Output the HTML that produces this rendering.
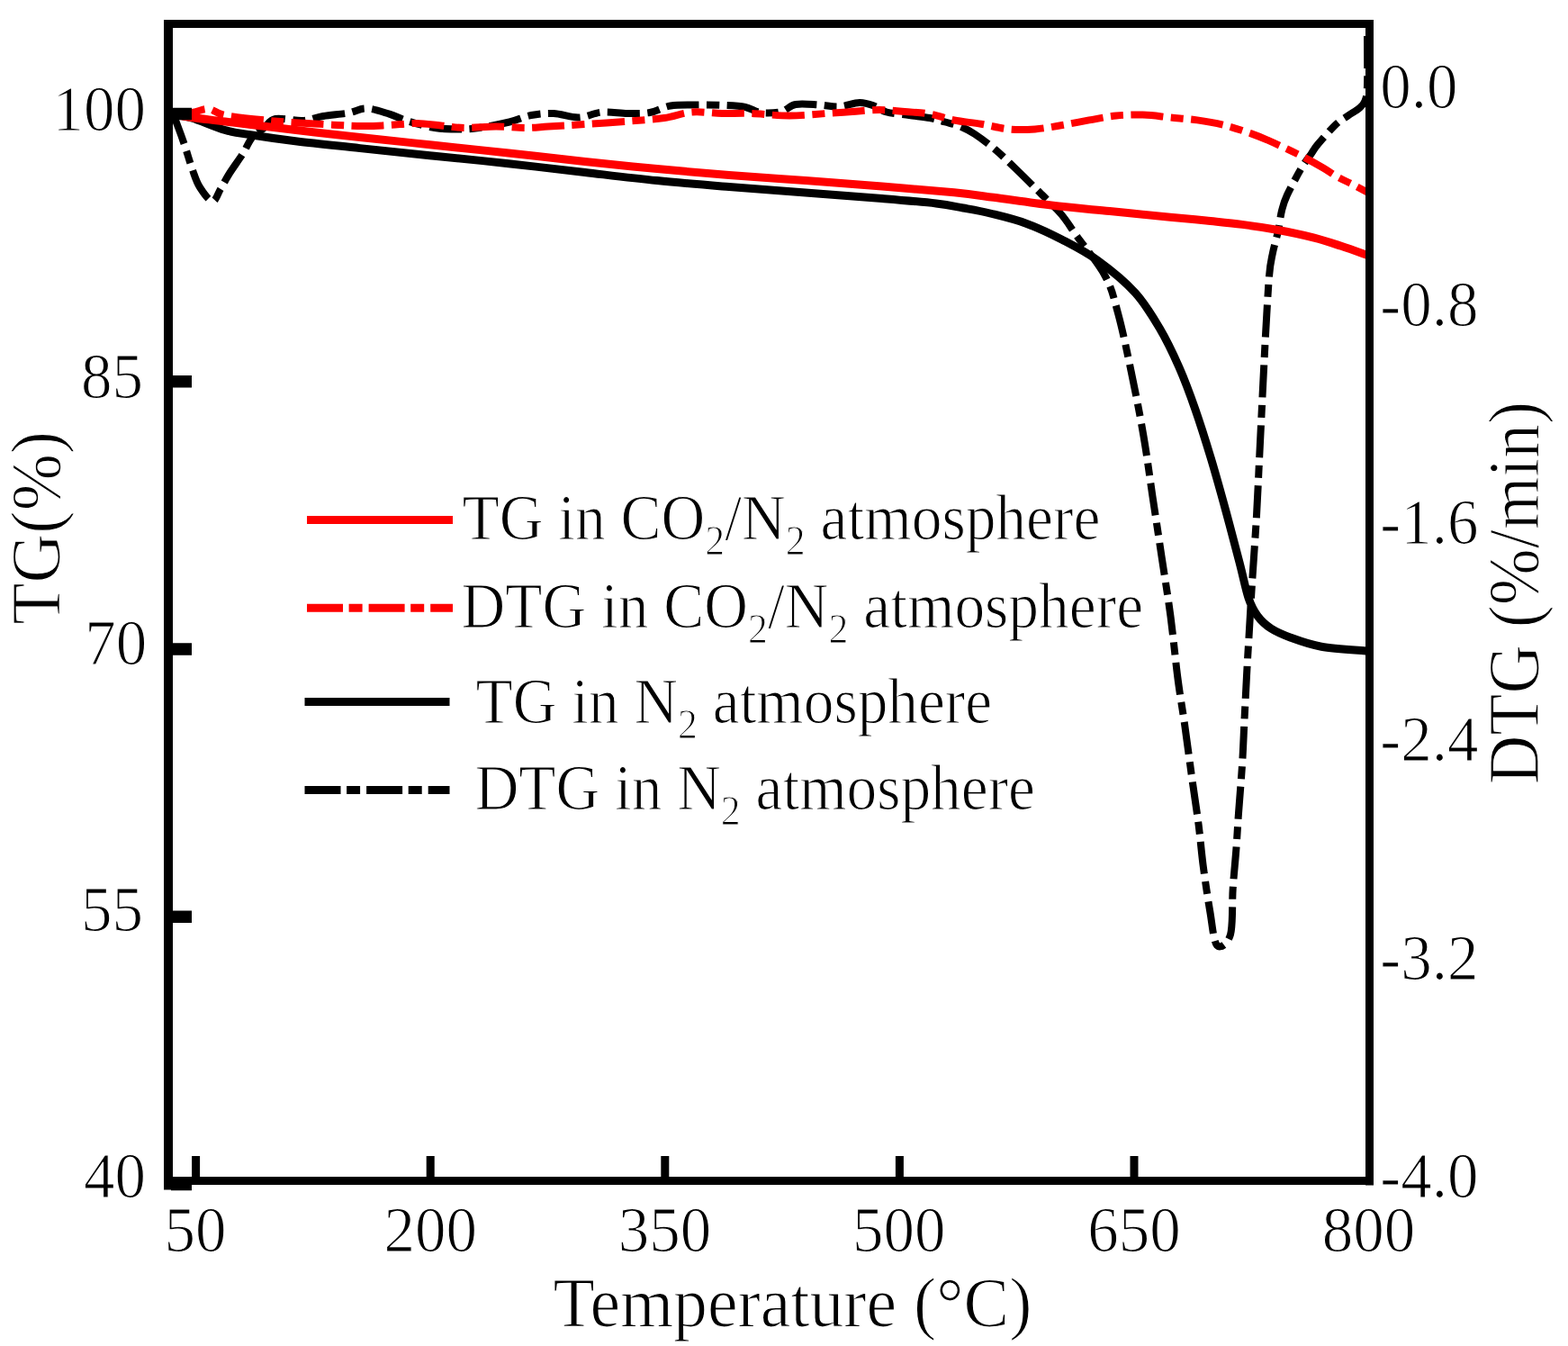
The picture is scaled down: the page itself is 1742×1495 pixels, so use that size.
<!DOCTYPE html><html><head><meta charset="utf-8"><style>html,body{margin:0;padding:0;background:#fff;overflow:hidden;}svg{display:block}</style></head><body>
<svg width="1742" height="1495" viewBox="0 0 1742 1495">
<rect width="100%" height="100%" fill="#fff"/>
<defs><clipPath id="pc"><rect x="186" y="26" width="1334" height="1288"/></clipPath></defs>
<g clip-path="url(#pc)" fill="none" stroke-linejoin="round">
<path d="M192.0,126.0 C192.9,128.4 195.5,134.8 197.7,140.6 C199.9,146.4 202.3,152.9 205.0,161.0 C207.7,169.1 211.2,181.2 214.0,189.0 C216.8,196.8 218.3,202.2 222.0,208.0 C225.7,213.8 232.2,223.2 236.0,223.5 C239.8,223.8 241.8,215.2 245.0,210.0 C248.2,204.8 250.9,199.0 255.0,192.5 C259.1,186.0 265.4,177.6 269.6,171.0 C273.8,164.4 276.0,157.8 280.0,153.0 C284.0,148.2 289.3,145.5 293.6,142.0 C297.9,138.5 298.8,133.3 306.0,132.0 C313.2,130.7 327.8,134.5 336.6,134.0 C345.4,133.5 350.6,130.4 359.0,129.0 C367.4,127.6 379.0,126.9 387.0,125.5 C395.0,124.1 399.4,120.2 407.0,120.4 C414.6,120.6 424.9,124.4 432.5,126.7 C440.1,129.0 444.3,131.8 452.7,134.3 C461.1,136.9 473.4,140.5 483.0,142.0 C492.6,143.5 501.8,143.5 510.0,143.5 C518.2,143.5 522.7,143.3 532.0,142.0 C541.3,140.7 556.3,137.8 566.0,135.5 C575.7,133.2 581.8,129.6 590.0,128.0 C598.2,126.4 606.2,125.6 615.0,126.0 C623.8,126.4 634.0,130.8 643.0,130.5 C652.0,130.2 660.0,125.2 669.0,124.5 C678.0,123.8 688.2,125.9 697.0,126.0 C705.8,126.1 714.0,126.4 722.0,125.0 C730.0,123.6 736.2,118.9 745.0,117.5 C753.8,116.1 765.0,116.6 775.0,116.5 C785.0,116.4 796.2,116.6 805.0,117.0 C813.8,117.4 821.3,117.7 828.0,119.0 C834.7,120.3 838.3,124.2 845.0,125.0 C851.7,125.8 861.5,125.5 868.0,124.0 C874.5,122.5 877.0,117.2 884.0,116.0 C891.0,114.8 902.0,116.1 910.0,116.5 C918.0,116.9 924.5,118.9 932.0,118.5 C939.5,118.1 948.3,114.1 955.0,114.0 C961.7,113.9 967.0,116.2 972.0,118.0 C977.0,119.8 978.7,122.8 985.0,124.5 C991.3,126.2 1002.0,126.9 1010.0,128.0 C1018.0,129.1 1026.3,129.8 1033.0,131.0 C1039.7,132.2 1044.3,133.9 1050.0,135.5 C1055.7,137.1 1061.5,138.2 1067.0,140.5 C1072.5,142.8 1076.5,144.7 1083.0,149.0 C1089.5,153.3 1098.3,159.9 1106.0,166.4 C1113.7,172.9 1120.8,180.1 1129.0,188.0 C1137.2,195.9 1146.7,205.4 1155.0,213.7 C1163.3,222.0 1172.1,229.9 1179.0,238.0 C1185.9,246.1 1188.3,251.0 1196.5,262.5 C1204.7,274.0 1220.4,292.7 1228.0,307.0 C1235.6,321.3 1237.4,330.9 1242.2,348.5 C1247.0,366.1 1252.0,390.1 1256.7,412.7 C1261.4,435.3 1266.5,460.9 1270.4,484.0 C1274.4,507.1 1277.1,528.7 1280.4,551.0 C1283.8,573.3 1287.2,595.7 1290.5,618.0 C1293.8,640.3 1297.5,661.8 1300.5,684.8 C1303.5,707.8 1306.1,735.6 1308.8,755.9 C1311.5,776.2 1313.9,788.9 1316.4,806.7 C1318.9,824.5 1321.5,844.4 1324.0,862.6 C1326.5,880.8 1329.5,899.5 1331.6,916.0 C1333.7,932.5 1334.6,945.6 1336.7,961.7 C1338.8,977.8 1341.8,997.8 1344.3,1012.5 C1346.8,1027.2 1348.2,1045.8 1352.0,1050.0 C1355.8,1054.2 1364.0,1048.5 1367.0,1038.0 C1370.0,1027.5 1368.6,1003.1 1369.7,987.0 C1370.8,970.9 1372.5,955.4 1373.5,941.4 C1374.5,927.4 1374.9,918.5 1376.0,903.3 C1377.1,888.1 1378.9,867.0 1380.0,850.0 C1381.1,833.0 1381.6,818.1 1382.4,801.6 C1383.2,785.1 1384.2,766.5 1385.0,750.8 C1385.8,735.1 1386.5,724.2 1387.5,707.6 C1388.5,691.0 1389.4,673.5 1390.8,651.3 C1392.2,629.1 1394.5,598.4 1395.9,574.4 C1397.3,550.4 1398.1,529.8 1399.2,507.5 C1400.3,485.2 1401.4,462.9 1402.5,440.6 C1403.6,418.3 1404.7,396.0 1405.9,373.7 C1407.2,351.4 1408.7,322.3 1410.0,306.8 C1411.3,291.3 1412.3,289.1 1414.0,280.7 C1415.7,272.3 1418.3,264.5 1420.0,256.7 C1421.7,248.9 1422.3,240.7 1424.0,234.0 C1425.7,227.3 1426.3,224.4 1430.0,216.5 C1433.7,208.6 1441.5,194.2 1446.0,186.5 C1450.5,178.8 1454.0,174.8 1457.0,170.4 C1460.0,166.1 1459.5,165.8 1464.0,160.4 C1468.5,155.1 1478.3,143.7 1484.0,138.3 C1489.7,133.0 1493.7,131.3 1498.0,128.3 C1502.3,125.3 1506.9,123.0 1510.0,120.3 C1513.1,117.6 1515.0,116.2 1516.5,112.0 C1518.0,107.8 1518.6,107.0 1519.0,95.0 C1519.4,83.0 1519.0,49.2 1519.0,40.0" stroke="#000" stroke-width="8" stroke-dasharray="36 8.5 14 8.5"/>
<path d="M192.0,127.0 C195.5,127.7 203.3,128.1 213.0,131.0 C222.7,133.9 238.8,141.3 250.0,144.5 C261.2,147.7 266.7,147.9 280.0,150.0 C293.3,152.1 310.0,154.6 330.0,157.0 C350.0,159.4 375.0,161.9 400.0,164.6 C425.0,167.3 452.5,170.2 480.0,173.0 C507.5,175.8 536.7,178.6 565.0,181.7 C593.3,184.8 622.5,188.3 650.0,191.5 C677.5,194.7 703.3,197.9 730.0,200.6 C756.7,203.3 782.5,205.3 810.0,207.5 C837.5,209.7 866.7,211.7 895.0,213.9 C923.3,216.1 955.8,218.5 980.0,220.5 C1004.2,222.5 1025.0,224.2 1040.0,226.0 C1055.0,227.8 1060.0,229.2 1070.0,231.0 C1080.0,232.8 1088.3,234.1 1100.0,237.0 C1111.7,239.9 1126.7,243.3 1140.0,248.2 C1153.3,253.1 1166.7,259.4 1180.0,266.3 C1193.3,273.2 1206.5,279.8 1220.0,289.6 C1233.5,299.4 1249.7,312.6 1261.0,325.0 C1272.3,337.4 1279.8,350.2 1288.0,364.0 C1296.2,377.8 1303.3,392.8 1310.0,408.0 C1316.7,423.2 1322.2,438.3 1328.0,455.0 C1333.8,471.7 1339.3,489.2 1345.0,508.0 C1350.7,526.8 1356.7,548.6 1362.0,568.0 C1367.3,587.4 1372.8,608.6 1377.0,624.6 C1381.2,640.6 1383.7,654.1 1387.0,664.0 C1390.3,673.9 1392.8,678.3 1397.0,684.0 C1401.2,689.7 1405.8,694.0 1412.0,698.0 C1418.2,702.0 1424.7,704.8 1434.0,708.2 C1443.3,711.6 1453.8,715.7 1468.0,718.2 C1482.2,720.7 1510.5,722.2 1519.0,723.0" stroke="#000" stroke-width="9"/>
<path d="M192.0,126.0 C195.5,125.8 206.3,125.8 213.0,125.0 C219.7,124.2 225.8,120.5 232.0,121.0 C238.2,121.5 238.7,125.8 250.0,128.0 C261.3,130.2 283.3,132.4 300.0,134.0 C316.7,135.6 333.0,136.5 350.0,137.5 C367.0,138.5 388.3,139.8 402.0,140.0 C415.7,140.2 421.8,139.5 432.0,139.0 C442.2,138.5 453.3,136.9 463.0,137.0 C472.7,137.1 481.2,138.7 490.0,139.5 C498.8,140.3 505.8,141.8 516.0,142.0 C526.2,142.2 539.7,140.6 551.0,140.6 C562.3,140.6 574.3,142.0 584.0,142.0 C593.7,142.0 598.0,141.3 609.0,140.6 C620.0,139.9 634.8,139.0 650.0,138.0 C665.2,137.0 685.3,135.7 700.0,134.5 C714.7,133.3 726.5,132.7 738.0,131.0 C749.5,129.3 758.3,125.3 769.0,124.5 C779.7,123.7 791.2,125.8 802.0,126.0 C812.8,126.2 821.5,125.6 834.0,126.0 C846.5,126.4 863.0,128.5 877.0,128.5 C891.0,128.5 906.3,126.8 918.0,126.0 C929.7,125.2 937.2,124.7 947.0,124.0 C956.8,123.3 967.3,122.0 977.0,122.0 C986.7,122.0 995.7,123.2 1005.0,124.0 C1014.3,124.8 1023.8,124.9 1033.0,126.5 C1042.2,128.1 1050.5,131.6 1060.0,133.5 C1069.5,135.4 1080.0,136.0 1090.0,137.7 C1100.0,139.3 1110.0,142.4 1120.0,143.4 C1130.0,144.4 1140.0,144.1 1150.0,143.4 C1160.0,142.7 1170.0,140.7 1180.0,139.0 C1190.0,137.3 1200.0,135.2 1210.0,133.4 C1220.0,131.7 1230.0,129.5 1240.0,128.5 C1250.0,127.5 1260.0,127.3 1270.0,127.6 C1280.0,127.9 1290.0,129.5 1300.0,130.5 C1310.0,131.5 1320.0,132.0 1330.0,133.4 C1340.0,134.8 1350.0,136.5 1360.0,139.0 C1370.0,141.5 1381.7,145.5 1390.0,148.4 C1398.3,151.3 1402.3,153.1 1410.0,156.4 C1417.7,159.7 1429.3,165.2 1436.0,168.4 C1442.7,171.6 1444.3,172.4 1450.0,175.4 C1455.7,178.4 1464.0,183.0 1470.0,186.5 C1476.0,190.0 1480.7,193.5 1486.0,196.5 C1491.3,199.5 1496.5,201.7 1502.0,204.5 C1507.5,207.3 1516.2,212.0 1519.0,213.5" stroke="#f00" stroke-width="8" stroke-dasharray="36 8.5 14 8.5"/>
<path d="M192.0,127.0 C195.5,127.6 203.3,129.2 213.0,130.5 C222.7,131.8 235.5,133.2 250.0,135.0 C264.5,136.8 283.3,139.0 300.0,141.0 C316.7,143.0 333.3,145.1 350.0,147.0 C366.7,148.9 378.3,150.2 400.0,152.5 C421.7,154.8 452.5,158.1 480.0,161.0 C507.5,163.9 536.7,166.9 565.0,170.0 C593.3,173.1 622.5,176.6 650.0,179.5 C677.5,182.4 703.3,185.0 730.0,187.5 C756.7,190.0 782.5,192.3 810.0,194.5 C837.5,196.7 866.7,198.5 895.0,200.6 C923.3,202.7 952.5,204.8 980.0,207.0 C1007.5,209.2 1039.3,211.8 1060.0,213.8 C1080.7,215.9 1086.0,216.9 1104.0,219.3 C1122.0,221.7 1146.5,225.4 1168.0,228.0 C1189.5,230.6 1211.0,232.4 1233.0,234.6 C1255.0,236.8 1282.2,239.4 1300.0,241.2 C1317.8,242.9 1326.7,243.7 1340.0,245.1 C1353.3,246.5 1366.7,247.7 1380.0,249.4 C1393.3,251.1 1406.7,253.1 1420.0,255.5 C1433.3,257.9 1448.3,261.1 1460.0,264.1 C1471.7,267.1 1480.2,270.1 1490.0,273.3 C1499.8,276.5 1514.2,281.8 1519.0,283.5" stroke="#f00" stroke-width="9"/>
</g>
<g fill="#000">
<rect x="182" y="22" width="10" height="1299.5"/>
<rect x="182" y="22" width="1344" height="9"/>
<rect x="1517" y="22" width="9" height="1294.5"/>
<rect x="182" y="1307" width="1344" height="9"/>
<rect x="190" y="119.75" width="23" height="13.5"/>
<rect x="190" y="417.00" width="23" height="13.5"/>
<rect x="190" y="714.25" width="23" height="13.5"/>
<rect x="190" y="1011.50" width="23" height="13.5"/>
<rect x="190" y="1308.75" width="23" height="13.5"/>
<rect x="213.10" y="1284" width="9" height="25"/>
<rect x="473.70" y="1284" width="9" height="25"/>
<rect x="734.30" y="1284" width="9" height="25"/>
<rect x="994.90" y="1284" width="9" height="25"/>
<rect x="1255.50" y="1284" width="9" height="25"/>
</g>
<text font-family="Liberation Serif, Times New Roman, serif" stroke="#fff" stroke-width="1.2" font-size="71.50" transform="translate(58.56,144.68) scale(0.9650,1)">100</text>
<text font-family="Liberation Serif, Times New Roman, serif" stroke="#fff" stroke-width="1.2" font-size="71.50" transform="translate(90.06,441.52) scale(0.9650,1)">85</text>
<text font-family="Liberation Serif, Times New Roman, serif" stroke="#fff" stroke-width="1.2" font-size="71.50" transform="translate(94.26,737.92) scale(0.9650,1)">70</text>
<text font-family="Liberation Serif, Times New Roman, serif" stroke="#fff" stroke-width="1.2" font-size="71.50" transform="translate(90.06,1033.88) scale(0.9650,1)">55</text>
<text font-family="Liberation Serif, Times New Roman, serif" stroke="#fff" stroke-width="1.2" font-size="71.50" transform="translate(92.96,1330.42) scale(0.9650,1)">40</text>
<text font-family="Liberation Serif, Times New Roman, serif" stroke="#fff" stroke-width="1.2" font-size="71.50" transform="translate(1533.34,120.37) scale(0.9650,1)">0.0</text>
<text font-family="Liberation Serif, Times New Roman, serif" stroke="#fff" stroke-width="1.2" font-size="71.50" transform="translate(1533.34,361.92) scale(0.9650,1)">-0.8</text>
<text font-family="Liberation Serif, Times New Roman, serif" stroke="#fff" stroke-width="1.2" font-size="71.50" transform="translate(1533.34,604.13) scale(0.9650,1)">-1.6</text>
<text font-family="Liberation Serif, Times New Roman, serif" stroke="#fff" stroke-width="1.2" font-size="71.50" transform="translate(1533.34,844.68) scale(0.9650,1)">-2.4</text>
<text font-family="Liberation Serif, Times New Roman, serif" stroke="#fff" stroke-width="1.2" font-size="71.50" transform="translate(1533.34,1087.68) scale(0.9650,1)">-3.2</text>
<text font-family="Liberation Serif, Times New Roman, serif" stroke="#fff" stroke-width="1.2" font-size="71.50" transform="translate(1533.34,1329.97) scale(0.9650,1)">-4.0</text>
<text font-family="Liberation Serif, Times New Roman, serif" stroke="#fff" stroke-width="1.2" font-size="71.50" transform="translate(182.41,1390.32) scale(0.9650,1)">50</text>
<text font-family="Liberation Serif, Times New Roman, serif" stroke="#fff" stroke-width="1.2" font-size="71.50" transform="translate(426.45,1390.32) scale(0.9650,1)">200</text>
<text font-family="Liberation Serif, Times New Roman, serif" stroke="#fff" stroke-width="1.2" font-size="71.50" transform="translate(686.71,1390.32) scale(0.9650,1)">350</text>
<text font-family="Liberation Serif, Times New Roman, serif" stroke="#fff" stroke-width="1.2" font-size="71.50" transform="translate(946.96,1390.32) scale(0.9650,1)">500</text>
<text font-family="Liberation Serif, Times New Roman, serif" stroke="#fff" stroke-width="1.2" font-size="71.50" transform="translate(1208.25,1390.32) scale(0.9650,1)">650</text>
<text font-family="Liberation Serif, Times New Roman, serif" stroke="#fff" stroke-width="1.2" font-size="71.50" transform="translate(1468.85,1390.32) scale(0.9650,1)">800</text>
<text font-family="Liberation Serif, Times New Roman, serif" stroke="#fff" stroke-width="1.2" font-size="78.46" transform="translate(614.59,1473.00) scale(0.9654,1)">Temperature (°C)</text>
<text font-family="Liberation Serif, Times New Roman, serif" stroke="#fff" stroke-width="1.2" font-size="78.31" transform="translate(65.90,693.82) rotate(-90) scale(0.9695,1)">TG(%)</text>
<text font-family="Liberation Serif, Times New Roman, serif" stroke="#fff" stroke-width="1.2" font-size="79.69" transform="translate(1709.00,871.16) rotate(-90) scale(0.9468,1)">DTG (%/min)</text>
<g fill="none" stroke-width="9">
<line x1="341" y1="577.5" x2="503" y2="577.5" stroke="#f00"/>
<line x1="341" y1="675.3" x2="503" y2="675.3" stroke="#f00" stroke-dasharray="40 6.6 15 7"/>
<line x1="338.5" y1="779.5" x2="499.5" y2="779.5" stroke="#000"/>
<line x1="338.5" y1="877.4" x2="499.5" y2="877.4" stroke="#000" stroke-dasharray="40 6.6 15 7"/>
</g>
<text font-family="Liberation Serif, Times New Roman, serif" stroke="#fff" stroke-width="1.2" font-size="72.50" transform="translate(513.47,599.00) scale(0.9307,1)">TG in CO<tspan font-size="47.1" dy="17">2</tspan><tspan dy="-17">/N</tspan><tspan font-size="47.1" dy="17">2</tspan><tspan dy="-17"> atmosphere</tspan></text>
<text font-family="Liberation Serif, Times New Roman, serif" stroke="#fff" stroke-width="1.2" font-size="72.50" transform="translate(512.54,697.00) scale(0.9305,1)">DTG in CO<tspan font-size="47.1" dy="17">2</tspan><tspan dy="-17">/N</tspan><tspan font-size="47.1" dy="17">2</tspan><tspan dy="-17"> atmosphere</tspan></text>
<text font-family="Liberation Serif, Times New Roman, serif" stroke="#fff" stroke-width="1.2" font-size="72.50" transform="translate(528.57,802.50) scale(0.9290,1)">TG in N<tspan font-size="47.1" dy="17">2</tspan><tspan dy="-17"> atmosphere</tspan></text>
<text font-family="Liberation Serif, Times New Roman, serif" stroke="#fff" stroke-width="1.2" font-size="72.50" transform="translate(527.64,898.70) scale(0.9293,1)">DTG in N<tspan font-size="47.1" dy="17">2</tspan><tspan dy="-17"> atmosphere</tspan></text>
</svg></body></html>
